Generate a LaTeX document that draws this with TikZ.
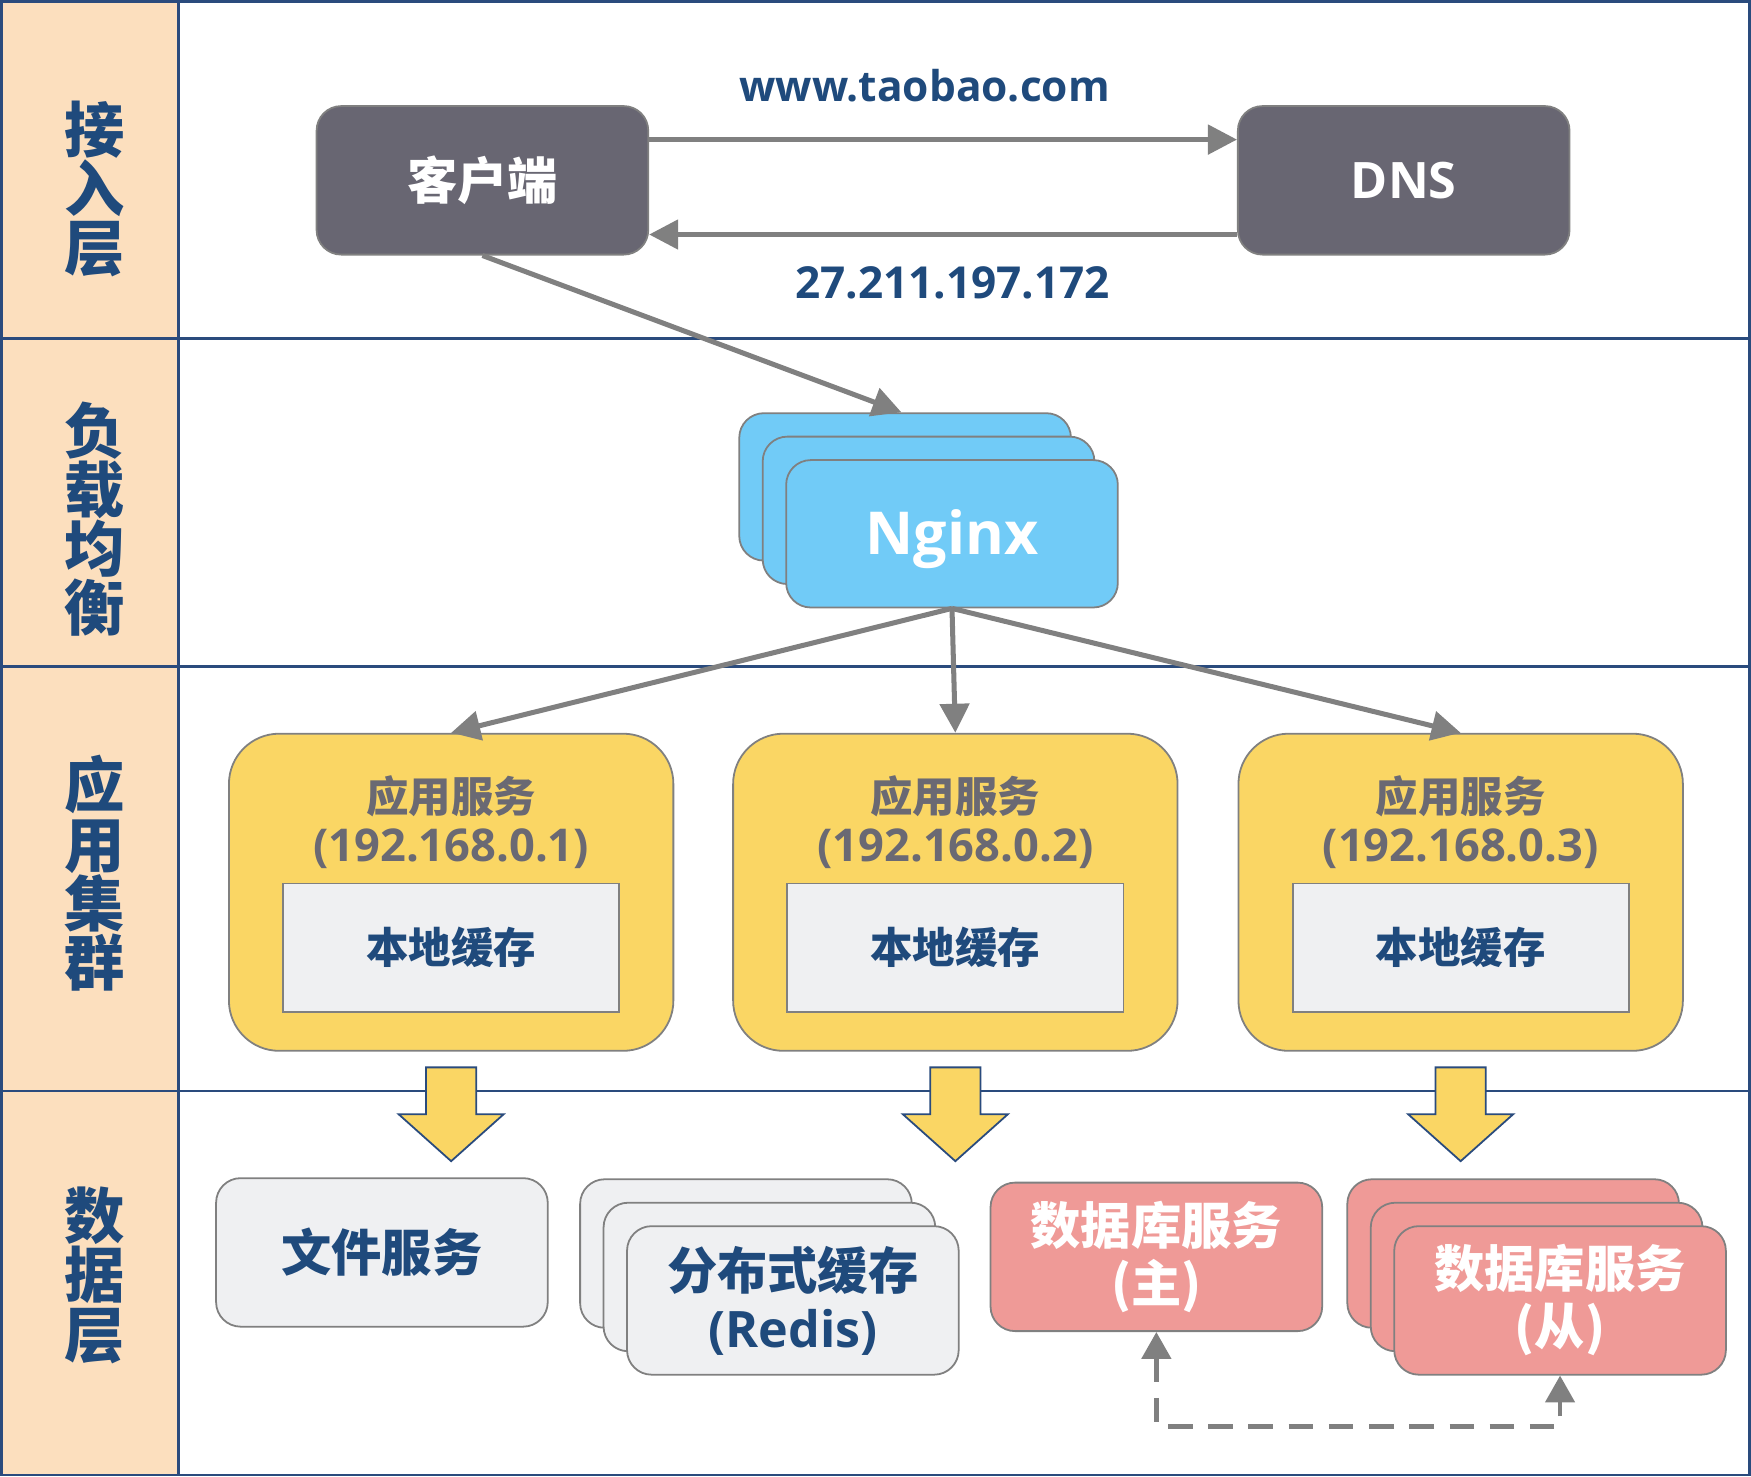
\documentclass[tikz,border=0pt]{standalone}
\usepackage{fontspec}
\setmainfont{Open Sans}
\newfontfamily\cjk{Noto Sans CJK SC}
\usetikzlibrary{arrows.meta,calc}
\definecolor{frameblue}{HTML}{2A4B7D}
\definecolor{textblue}{HTML}{1F4A7C}
\definecolor{peach}{HTML}{FCDFBE}
\definecolor{clientgray}{HTML}{686672}
\definecolor{linegray}{HTML}{808080}
\definecolor{nginxblue}{HTML}{71CBF7}
\definecolor{appyellow}{HTML}{FAD664}
\definecolor{cachegray}{HTML}{EFF0F2}
\definecolor{dbred}{HTML}{EF9A97}
\definecolor{apptext}{HTML}{6A6973}
\begin{document}
\begin{tikzpicture}[x=1pt,y=-1pt,
  framestyle/.style={draw=frameblue,line width=2.5pt},
  layerlabel/.style={text=textblue,align=center,font=\cjk\bfseries\fontsize{54}{53}\selectfont,inner sep=0pt},
  smallbox/.style={rounded corners=22pt,draw=linegray,line width=1.6pt,minimum width=297pt,minimum height=133pt,inner sep=0pt,align=center},
  darkbox/.style={smallbox,fill=clientgray,text=white},
  nginxbox/.style={smallbox,fill=nginxblue,minimum height=132pt,text=white,font=\bfseries\fontsize{53}{60}\selectfont},
  greybox/.style={smallbox,fill=cachegray,text=textblue,font=\cjk\bfseries\fontsize{45}{52}\selectfont},
  redbox/.style={smallbox,fill=dbred,text=white,font=\cjk\bfseries\fontsize{45}{52}\selectfont},
  appbox/.style={rounded corners=45pt,draw=linegray,line width=1.6pt,fill=appyellow,minimum width=398pt,minimum height=284pt},
  cachebox/.style={draw=linegray,line width=1.6pt,fill=cachegray,minimum width=301pt,minimum height=115pt,text=textblue,font=\cjk\bfseries\fontsize{38}{44}\selectfont},
  iptext/.style={text=apptext,font=\bfseries\fontsize{40.5}{44}\selectfont,inner sep=0pt},
  conn/.style={draw=linegray,line width=4.5pt,-{Triangle[length=26pt,width=26pt]}},
  blockarrow/.style={draw=frameblue,line width=1.6pt,fill=appyellow,line join=miter},
  edgelabel/.style={text=textblue,font=\bfseries\fontsize{38}{44}\selectfont,inner sep=0pt}
]
\useasboundingbox (0,0) rectangle (1568,1322);
% frame
\fill[peach] (0,0) rectangle (160,1322);
\draw[framestyle] (160,0) -- (160,1322);
\draw[framestyle] (0,303) -- (1568,303);
\draw[framestyle] (0,597) -- (1568,597);
\draw[framestyle] (0,977) -- (1568,977);
\draw[framestyle] (1.25,1.25) rectangle (1566.75,1320.75);
% layer labels
\node[layerlabel] (l1) at (85,169) {接\\入\\层};
\node[layerlabel] (l2) at (85,465) {负\\载\\均\\衡};
\node[layerlabel] (l3) at (85,782) {应\\用\\集\\群};
\node[layerlabel] (l4) at (85,1142) {数\\据\\层};
% access layer
\node[darkbox,font=\cjk\bfseries\fontsize{45}{52}\selectfont] (client) at (432,161.5) {客户端};
\node[darkbox,font=\bfseries\fontsize{45}{52}\selectfont] (dns) at (1257,161.5) {DNS};
\draw[conn] (client.east |- 0,125) -- (dns.west |- 0,125);
\draw[conn] (dns.west |- 0,210) -- (client.east |- 0,210);
\node[edgelabel] (url) at (828,77) {www.taobao.com};
\node[edgelabel,font=\bfseries\fontsize{39.5}{44}\selectfont] (ip) at (853,253) {27.211.197.172};
% nginx
\node[nginxbox] (ngA) at (810.5,436) {};
\node[nginxbox] (ngB) at (831.5,457) {};
\node[nginxbox] (ngC) at (852.5,478) {\raisebox{-5pt}[\height][\depth]{Nginx}};
\draw[conn] (client.south) -- ([xshift=146pt]ngA.north west);
% apps
\node[appbox] (app1) at (404,799) {};
\node[appbox] (app2) at (855.5,799) {};
\node[appbox] (app3) at (1308,799) {};
\foreach \n in {app1,app2,app3}{
  \node[text=apptext,font=\cjk\bfseries\fontsize{38}{44}\selectfont,inner sep=0pt] (\n t) at ($(\n.north)+(0,57)$) {应用服务};
  \node[cachebox] (\n c) at ($(\n.north)+(0,192.5)$) {本地缓存};
  \draw[blockarrow] ([xshift=-22.5pt,yshift=-14pt]\n.south) -- ++(45,0) -- ++(0,42) -- ++(24.5,0) -- ++(-47,42) -- ++(-47,-42) -- ++(24.5,0) -- cycle;
}
\node[iptext] (ip1) at ($(app1.north)+(0,104)$) {(192.168.0.1)};
\node[iptext] (ip2) at ($(app2.north)+(0,104)$) {(192.168.0.2)};
\node[iptext] (ip3) at ($(app3.north)+(0,104)$) {(192.168.0.3)};
\draw[conn] (ngC.south) -- (app1.north);
\draw[conn] (ngC.south) -- (app2.north);
\draw[conn] (ngC.south) -- (app3.north);
% data layer
\node[greybox] (file) at (342,1121.5) {文件服务};
\node[greybox] (rA) at (668,1122.5) {};
\node[greybox] (rB) at (689,1143.5) {};
\node[greybox] (rC) at (710,1164.5) {分布式缓存\\{\fontspec{Open Sans}\bfseries\fontsize{45}{52}\selectfont(Redis)}};
\node[redbox] (dbm) at (1035.5,1125.5) {数据库服务\\(主)};
\node[redbox] (sA) at (1355,1122.5) {};
\node[redbox] (sB) at (1376,1143.5) {};
\node[redbox] (sC) at (1397,1164.5) {数据库服务\\(从)};
\draw[draw=linegray,line width=4pt,dash pattern=on 22pt off 14pt,{Triangle[length=24pt,width=26pt]}-{Triangle[length=24pt,width=26pt]}] (dbm.south) -- ++(0,84.5) -| (sC.south);
\end{tikzpicture}
\end{document}
